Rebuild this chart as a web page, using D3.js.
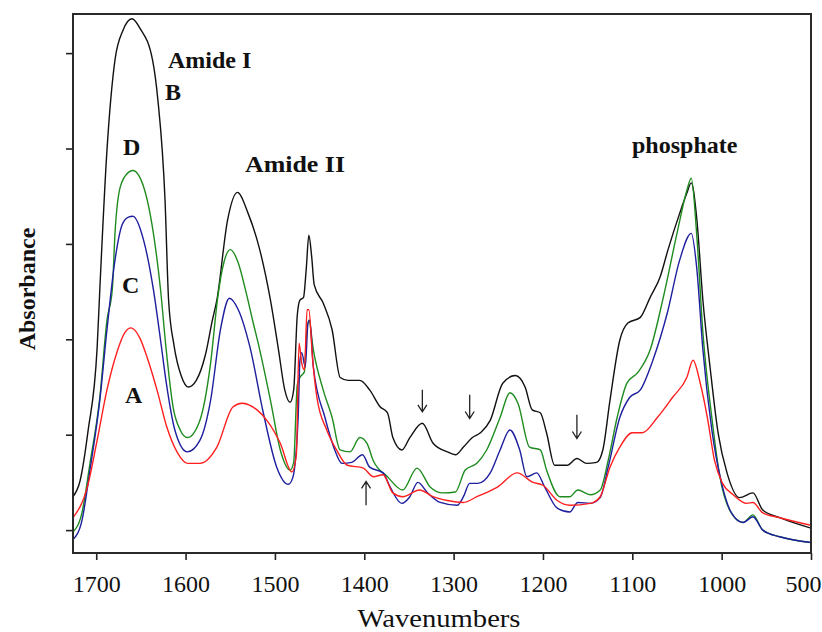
<!DOCTYPE html>
<html>
<head>
  <title>FTIR spectra A-D</title>
  <style>
    body { margin: 0; background: #fff; }
    svg { display: block; }
    .tick text { font-family: "Liberation Serif", "DejaVu Serif", serif; }
    .lbl { font-family: "Liberation Serif", "DejaVu Serif", serif; font-weight: bold; font-size: 24px; fill: #111; }
  </style>
</head>
<body>
  <div id="chart"></div>

  <script src="https://d3js.org/d3.v7.min.js"></script>
  <script>
    // tick values / labels
    const wavenumberTicks = [1700, 1600, 1500, 1400, 1300, 1200, 1100, 1000, 900];
    const tickLabels = ["1700", "1600", "1500", "1400", "1300", "1200", "1100", "1000", "500"];
    const absorbanceTicks = [0, 1, 2, 3, 4, 5];

    // spectra: [wavenumber, absorbance (arbitrary units)]
    const specB = [
      [1726,0.35],[1718,0.52],[1709,1.05],[1699,1.91],[1696,2.52],[1688,3.98],[1679,4.93],[1670,5.24],
      [1660,5.36],[1651,5.26],[1637,4.93],[1631,4.51],[1623,3.46],[1619,2.41],[1613,1.94],[1605,1.62],
      [1597,1.50],[1588,1.57],[1578,1.83],[1570,2.20],[1565,2.41],[1553,3.25],[1542,3.54],[1530,3.32],
      [1517,2.94],[1505,2.41],[1496,1.89],[1489,1.47],[1483,1.34],[1479,1.47],[1475,2.25],[1472,2.41],
      [1468,2.44],[1465,2.73],[1462,3.09],[1459,2.88],[1456,2.57],[1446,2.38],[1436,2.10],[1427,1.60],
      [1418,1.57],[1405,1.57],[1394,1.47],[1382,1.29],[1374,1.23],[1368,0.97],[1358,0.84],[1349,0.97],
      [1335,1.12],[1323,0.91],[1307,0.82],[1298,0.79],[1289,0.87],[1279,0.97],[1270,1.02],[1259,1.15],
      [1245,1.54],[1231,1.62],[1220,1.50],[1212,1.26],[1203,1.23],[1196,1.02],[1187,0.68],[1173,0.68],
      [1162,0.75],[1151,0.70],[1140,0.71],[1133,0.84],[1125,1.36],[1114,1.99],[1105,2.17],[1091,2.23],
      [1080,2.44],[1069,2.65],[1060,2.94],[1047,3.32],[1039,3.53],[1034,3.64],[1028,3.28],[1021,2.41],
      [1013,1.71],[1004,1.02],[994,0.60],[980,0.34],[965,0.39],[954,0.21],[935,0.13],[900,0.02]
    ];
    const specD = [
      [1726,-0.02],[1716,0.18],[1707,0.70],[1696,1.39],[1688,2.20],[1682,2.52],[1679,3.11],[1673,3.60],
      [1664,3.75],[1659,3.77],[1647,3.60],[1636,3.11],[1628,2.52],[1622,1.92],[1614,1.29],[1606,1.05],
      [1598,0.97],[1584,1.15],[1572,1.75],[1564,2.44],[1557,2.81],[1550,2.94],[1541,2.80],[1533,2.52],
      [1525,2.20],[1517,1.89],[1505,1.36],[1494,0.84],[1483,0.63],[1479,0.71],[1475,1.52],[1472,1.60],
      [1467,1.66],[1465,1.99],[1462,2.20],[1457,1.89],[1446,1.47],[1436,1.18],[1427,0.84],[1416,0.82],
      [1405,0.97],[1397,0.91],[1390,0.73],[1374,0.56],[1357,0.42],[1341,0.65],[1326,0.45],[1312,0.39],
      [1298,0.40],[1287,0.63],[1274,0.70],[1263,0.84],[1248,1.18],[1237,1.44],[1228,1.33],[1215,0.87],
      [1203,0.84],[1196,0.63],[1181,0.35],[1170,0.35],[1161,0.42],[1147,0.37],[1136,0.42],[1127,0.73],
      [1117,1.18],[1106,1.54],[1094,1.65],[1080,1.89],[1066,2.41],[1050,3.11],[1039,3.56],[1034,3.69],
      [1028,3.11],[1021,2.07],[1011,1.18],[1002,0.56],[991,0.21],[976,0.08],[965,0.16],[954,0.00],
      [935,-0.07],[900,-0.13]
    ];
    const specC = [
      [1726,-0.10],[1716,0.10],[1707,0.63],[1696,1.36],[1688,2.10],[1679,2.83],[1671,3.20],[1664,3.28],
      [1659,3.29],[1647,3.04],[1636,2.52],[1628,1.99],[1622,1.57],[1612,1.05],[1598,0.82],[1584,0.94],
      [1572,1.36],[1561,2.10],[1551,2.43],[1541,2.31],[1528,1.92],[1513,1.23],[1498,0.66],[1485,0.48],
      [1480,0.55],[1474,1.18],[1472,1.78],[1470,1.86],[1466,1.71],[1463,2.17],[1461,2.20],[1457,1.71],
      [1444,1.18],[1433,0.84],[1425,0.70],[1414,0.71],[1402,0.79],[1394,0.66],[1379,0.60],[1371,0.45],
      [1358,0.28],[1349,0.35],[1340,0.50],[1329,0.39],[1315,0.29],[1296,0.26],[1289,0.35],[1282,0.49],
      [1273,0.49],[1259,0.60],[1248,0.84],[1237,1.05],[1226,0.84],[1218,0.56],[1207,0.60],[1198,0.45],
      [1184,0.23],[1170,0.19],[1161,0.29],[1147,0.28],[1136,0.34],[1127,0.66],[1114,1.18],[1103,1.39],
      [1091,1.47],[1077,1.78],[1061,2.27],[1047,2.83],[1034,3.11],[1028,2.76],[1021,1.89],[1011,1.05],
      [1000,0.49],[989,0.18],[976,0.08],[965,0.14],[954,0.00],[935,-0.07],[900,-0.13]
    ];
    const specA = [
      [1726,0.13],[1710,0.45],[1699,0.94],[1688,1.47],[1677,1.86],[1668,2.07],[1661,2.12],[1651,2.01],
      [1643,1.81],[1632,1.47],[1621,1.08],[1609,0.81],[1598,0.70],[1584,0.70],[1565,0.87],[1547,1.29],
      [1537,1.33],[1520,1.26],[1509,1.15],[1494,0.91],[1481,0.61],[1476,0.79],[1473,1.96],[1470,1.75],
      [1467,1.68],[1464,2.31],[1462,2.31],[1458,1.81],[1453,1.39],[1442,1.05],[1431,0.84],[1419,0.68],
      [1401,0.65],[1390,0.56],[1379,0.58],[1368,0.39],[1357,0.35],[1338,0.42],[1323,0.35],[1307,0.31],
      [1289,0.29],[1274,0.35],[1251,0.45],[1229,0.60],[1211,0.50],[1200,0.47],[1184,0.31],[1170,0.26],
      [1147,0.28],[1136,0.35],[1125,0.66],[1114,0.87],[1100,1.02],[1089,1.02],[1072,1.18],[1055,1.39],
      [1039,1.60],[1032,1.78],[1024,1.54],[1016,1.18],[1008,0.73],[999,0.49],[987,0.37],[972,0.28],
      [965,0.29],[954,0.18],[935,0.13],[900,0.05]
    ];

    // arrows: wavenumber, absorbance at the tail, absorbance at the head
    const arrowW = [1335, 1282, 1162, 1398];
    const arrowFrom = [1.47, 1.42, 1.21, 0.26];
    const arrowTo = [1.24, 1.17, 0.96, 0.51];

    const series = [
      { data: specB, color: "#111111" },
      { data: specD, color: "#1f8c1f" },
      { data: specC, color: "#1e1e9e" },
      { data: specA, color: "#ff1f1f" }
    ];

    const W = 822, H = 632;
    const m = { left: 73, right: 811, top: 14, bottom: 553 };

    const svg = d3.select("#chart").append("svg")
      .attr("width", W).attr("height", H);

    const x = d3.scaleLinear().domain([1726, 900]).range([m.left, m.right]);
    const y = d3.scaleLinear().domain([-0.24, 5.41]).range([m.bottom, m.top]);

    svg.append("clipPath").attr("id", "plot")
      .append("rect").attr("x", m.left).attr("y", m.top)
      .attr("width", m.right - m.left).attr("height", m.bottom - m.top);

    const line = d3.line()
      .x(d => x(d[0]))
      .y(d => y(d[1]))
      .curve(d3.curveMonotoneX);

    const g = svg.append("g").attr("clip-path", "url(#plot)");
    g.selectAll("path.spec")
      .data(series)
      .enter()
      .append("path")
      .attr("class", "spec")
      .attr("d", d => line(d.data))
      .attr("fill", "none")
      .attr("stroke", d => d.color)
      .attr("stroke-width", 1.4)
      .attr("stroke-linejoin", "round");

    // arrows
    arrowW.forEach((w, i) => {
      const ax = x(w), y0 = y(arrowFrom[i]), y1 = y(arrowTo[i]);
      const dir = y1 > y0 ? 1 : -1;
      svg.append("path")
        .attr("d", `M${ax},${y0}L${ax},${y1}M${ax - 4.5},${y1 - dir * 7}L${ax},${y1}L${ax + 4.5},${y1 - dir * 7}`)
        .attr("fill", "none").attr("stroke", "#222").attr("stroke-width", 1.3);
    });

    // axes
    const xAxis = svg.append("g")
      .attr("transform", "translate(0," + m.bottom + ")")
      .call(d3.axisBottom(x).tickValues(wavenumberTicks)
        .tickFormat((d, i) => tickLabels[i]).tickSize(7).tickSizeOuter(0));
    xAxis.select(".domain").remove();
    xAxis.selectAll(".tick line").attr("stroke", "#222").attr("stroke-width", 1.6);
    xAxis.selectAll(".tick text")
      .attr("y", 39).attr("dy", 0)
      .attr("font-size", 24).attr("fill", "#111");
    // last label sits at the right edge of the page
    xAxis.selectAll(".tick text").filter((d, i, n) => i === n.length - 1)
      .attr("text-anchor", "end").attr("x", 10);

    const yAxis = svg.append("g")
      .attr("transform", "translate(" + m.left + ",0)")
      .call(d3.axisLeft(y).tickValues(absorbanceTicks).tickFormat("").tickSize(7).tickSizeOuter(0));
    yAxis.select(".domain").remove();
    yAxis.selectAll(".tick line").attr("stroke", "#222").attr("stroke-width", 1.6);

    // frame
    svg.append("rect")
      .attr("x", m.left).attr("y", m.top)
      .attr("width", m.right - m.left).attr("height", m.bottom - m.top)
      .attr("fill", "none").attr("stroke", "#2a2a2a").attr("stroke-width", 2);

    // text labels
    const labels = [
      { t: "Amide I", x: 168, y: 68 },
      { t: "B", x: 165, y: 100 },
      { t: "D", x: 123, y: 155 },
      { t: "C", x: 122, y: 293 },
      { t: "A", x: 125, y: 403 },
      { t: "Amide II", x: 245, y: 172, len: 100 },
      { t: "phosphate", x: 632, y: 153 }
    ];
    labels.forEach(l => {
      const t = svg.append("text").attr("class", "lbl")
        .attr("x", l.x).attr("y", l.y).text(l.t);
      if (l.len) t.attr("textLength", l.len).attr("lengthAdjust", "spacingAndGlyphs");
    });

    svg.append("text").attr("class", "lbl")
      .attr("transform", "translate(35,289) rotate(-90)")
      .attr("text-anchor", "middle")
      .text("Absorbance");

    svg.append("text")
      .attr("x", 439).attr("y", 627)
      .attr("text-anchor", "middle")
      .attr("font-family", "Liberation Serif, serif")
      .attr("font-size", 26)
      .attr("textLength", 163).attr("lengthAdjust", "spacingAndGlyphs")
      .attr("fill", "#111")
      .text("Wavenumbers");
  </script>
</body>
</html>
